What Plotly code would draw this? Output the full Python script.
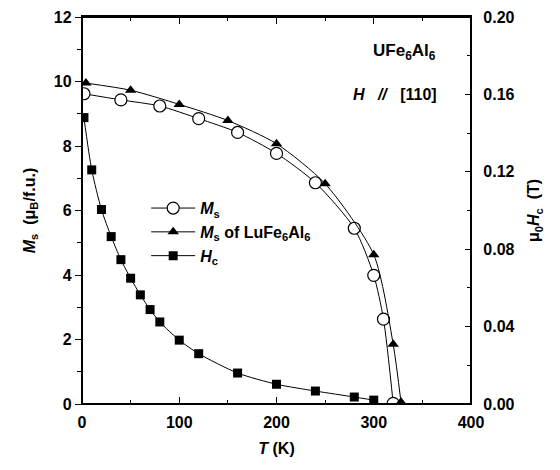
import plotly.graph_objects as go

# Data
T_ms = [2, 40, 80, 120, 160, 200, 240, 280, 300, 310, 320]
Ms = [9.62, 9.43, 9.24, 8.85, 8.42, 7.77, 6.86, 5.45, 3.99, 2.63, 0.02]

T_lu = [4, 50, 100, 150, 200, 250, 300, 320, 328]
Ms_lu = [9.95, 9.73, 9.29, 8.79, 8.07, 6.83, 4.63, 1.85, 0.06]

T_hc = [2, 10, 20, 30, 40, 50, 60, 70, 80, 100, 120, 160, 200, 240, 280, 300]
Hc = [0.148, 0.121, 0.1005, 0.0865, 0.0746, 0.065, 0.0564, 0.0488, 0.0424,
      0.033, 0.026, 0.016, 0.0102, 0.0067, 0.0036, 0.002]

x_ticks = [0, 100, 200, 300, 400]
y_ticks = [0, 2, 4, 6, 8, 10, 12]
y2_ticks = [0.0, 0.04, 0.08, 0.12, 0.16, 0.20]

FONT = "Liberation Sans, Arial, sans-serif"

fig = go.Figure()
fig.add_trace(go.Scatter(
    x=T_ms, y=Ms, mode="lines+markers", name="<b><i>M</i><sub>s</sub></b>",
    line=dict(color="black", width=1, shape="spline", smoothing=0.7),
    marker=dict(symbol="circle", size=12, color="white", line=dict(color="black", width=1.2)),
))
# placed on the identical top x axis so that the top frame ticks are drawn
fig.add_trace(go.Scatter(
    x=T_lu, y=Ms_lu, mode="lines+markers", xaxis="x2",
    name="<b><i>M</i><sub>s</sub> of LuFe<sub>6</sub>Al<sub>6</sub></b>",
    line=dict(color="black", width=1, shape="spline", smoothing=0.7),
    marker=dict(symbol="triangle-up", size=10, color="black", line=dict(color="black", width=0)),
))
fig.add_trace(go.Scatter(
    x=T_hc, y=Hc, mode="lines+markers", name="<b><i>H</i><sub>c</sub></b>", yaxis="y2",
    line=dict(color="black", width=1, shape="spline", smoothing=0.7),
    marker=dict(symbol="square", size=9, color="black", line=dict(color="black", width=0)),
))

tickfont = dict(family=FONT, size=16, color="black")
titlefont = dict(family=FONT, size=16, color="black")

# page body has an 8px margin, so the figure is drawn 8px right and down
fig.update_layout(
    width=552, height=460,
    margin=dict(l=74, r=89, t=9, b=64, autoexpand=False),
    paper_bgcolor="white", plot_bgcolor="white",
    showlegend=True,
    legend=dict(x=0.165, y=0.55, xanchor="left", yanchor="top",
                bgcolor="rgba(0,0,0,0)", font=dict(family=FONT, size=16, color="black"),
                itemwidth=44, tracegroupgap=0, traceorder="normal"),
    xaxis=dict(
        range=[0, 400], tickvals=x_ticks, ticktext=[f"<b>{v}</b>" for v in x_ticks],
        showline=True, linecolor="black", linewidth=1.3,
        ticks="inside", ticklen=7, tickwidth=1.2, tickcolor="black",
        minor=dict(ticks="inside", dtick=50, tick0=0, ticklen=4, tickwidth=1.2, tickcolor="black"),
        showgrid=False, zeroline=False, tickfont=tickfont, ticklabelstandoff=4,
        automargin=False, ticklabeloverflow="allow",
        title=dict(text="<b><i>T</i> (K)</b>", font=titlefont, standoff=12),
    ),
    xaxis2=dict(
        range=[0, 400], overlaying="x", side="top", anchor="y",
        tickvals=x_ticks, showticklabels=False,
        showline=True, linecolor="black", linewidth=2,
        ticks="inside", ticklen=7, tickwidth=1.2, tickcolor="black",
        minor=dict(ticks="inside", dtick=50, tick0=0, ticklen=4, tickwidth=1.2, tickcolor="black"),
        showgrid=False, zeroline=False, automargin=False,
    ),
    yaxis=dict(
        range=[0, 12], tickvals=y_ticks, ticktext=[f"<b>{v}</b>" for v in y_ticks],
        showline=True, linecolor="black", linewidth=1.3,
        ticks="outside", ticklen=6, tickwidth=1.2, tickcolor="black",
        minor=dict(ticks="outside", dtick=1, tick0=0, ticklen=4, tickwidth=1.2, tickcolor="black"),
        showgrid=False, zeroline=False, tickfont=tickfont, automargin=False,
        ticklabeloverflow="allow",
        title=dict(text="<b><i>M</i><sub>s</sub>  (μ<sub>B</sub>/f.u.)</b>", font=titlefont, standoff=14),
    ),
    yaxis2=dict(
        range=[0, 0.2], tickvals=y2_ticks, ticktext=[f"<b>{v:.2f}</b>" for v in y2_ticks],
        overlaying="y", side="right",
        showline=True, linecolor="black", linewidth=1.3,
        ticks="inside", ticklen=6, tickwidth=1.2, tickcolor="black",
        minor=dict(ticks="inside", dtick=0.02, tick0=0, ticklen=4, tickwidth=1.2, tickcolor="black"),
        showgrid=False, zeroline=False, tickfont=tickfont, ticklabelstandoff=8, automargin=False,
        ticklabeloverflow="allow",
        title=dict(text="<b>μ<sub>0</sub><i>H</i><sub>c</sub>  (T)</b>", font=titlefont, standoff=14),
    ),
    shapes=[
        dict(type="rect", xref="paper", yref="paper", x0=0, x1=1, y0=0, y1=1,
             line=dict(color="black", width=2), fillcolor="rgba(0,0,0,0)", layer="above"),
    ],
    annotations=[
        dict(text="<b>UFe<sub>6</sub>Al<sub>6</sub></b>", xref="paper", yref="paper",
             x=0.915, y=0.91, xanchor="right", yanchor="middle", showarrow=False,
             font=dict(family=FONT, size=17, color="black")),
        dict(text="<b><i>H</i>   <i>//</i>   [110]</b>", xref="paper", yref="paper",
             x=0.917, y=0.80, xanchor="right", yanchor="middle", showarrow=False,
             font=dict(family=FONT, size=16, color="black")),
    ],
)

fig.write_html("out.html")
